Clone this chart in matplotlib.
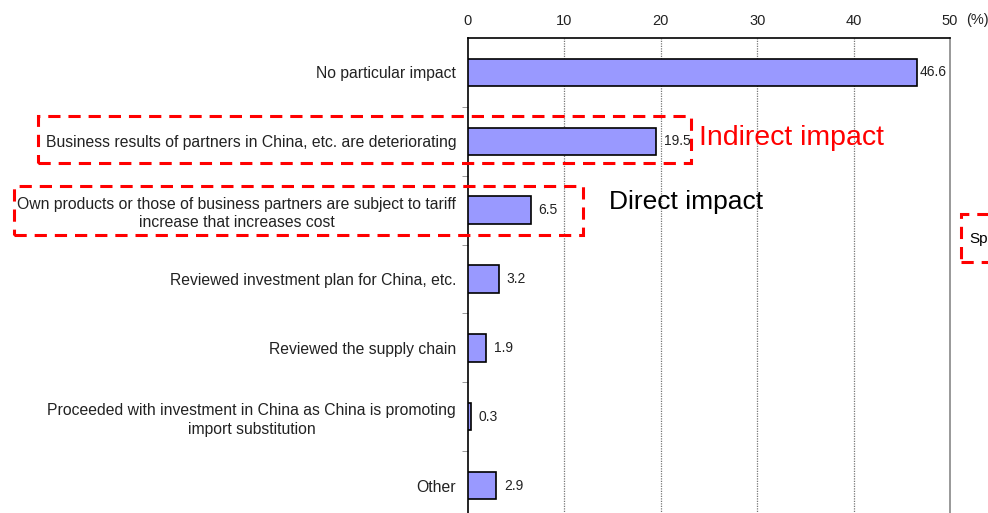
import matplotlib.pyplot as plt
from matplotlib.patches import Rectangle
import numpy as np

plt.rcParams['font.family'] = ['Liberation Sans', 'DejaVu Sans']

categories = [
    "No particular impact",
    "Business results of partners in China, etc. are deteriorating",
    "Own products or those of business partners are subject to tariff\nincrease that increases cost",
    "Reviewed investment plan for China, etc.",
    "Reviewed the supply chain",
    "Proceeded with investment in China as China is promoting\nimport substitution",
    "Other",
]
values = [46.6, 19.5, 6.5, 3.2, 1.9, 0.3, 2.9]
xticks = [0, 10, 20, 30, 40, 50]

W, H = 988, 513
fig = plt.figure(figsize=(W / 100, H / 100), dpi=100)
ax = fig.add_axes([468 / W, (H - 520) / H, 482 / W, 482 / H])

y = np.arange(len(categories))
ax.barh(y, values, height=0.4, color="#9999ff", edgecolor="black", linewidth=1.2, zorder=3)
for i, v in enumerate(values):
    pad = 2 if v == max(values) else 8
    ax.annotate(f"{v:.1f}", (v, i), xytext=(pad, 0), textcoords="offset pixels",
                va="center", ha="left", fontsize=10, color="#222222", zorder=4)

ax.set_xlim(0, 50)
ax.set_ylim(len(categories) - 0.5, -0.5)
ax.xaxis.tick_top()
ax.set_xticks(xticks)
ax.set_xticklabels([str(t) for t in xticks], fontsize=10.5, color="#222222")
ax.tick_params(axis="x", length=0, pad=7)
ax.set_yticks(y)
ax.set_yticklabels(categories, fontsize=11.3, multialignment="center",
                   linespacing=1.3, color="#222222")
ax.tick_params(axis="y", length=0, pad=8.5)
ax.set_yticks(np.arange(0.5, len(categories) - 0.5), minor=True)
ax.tick_params(axis="y", which="minor", length=4, color="#888888", direction="out")

for t in xticks[1:-1]:
    ax.axvline(t, color="#777777", linestyle=(0, (1, 1)), linewidth=0.9, zorder=1)
for side in ["left", "top"]:
    ax.spines[side].set_color("black")
    ax.spines[side].set_linewidth(1.2)
ax.spines["right"].set_color("#888888")
ax.spines["right"].set_linewidth(1.2)
ax.spines["bottom"].set_visible(False)

fig.text(966 / W, 1 - 20 / H, "(%)", fontsize=10.5, va="center", ha="left", color="#222222")

# red dashed call-out frames, in figure pixels
def frame(x0, y0, x1, y1):
    r = Rectangle((x0 / W, 1 - y1 / H), (x1 - x0) / W, (y1 - y0) / H,
                  transform=fig.transFigure, fill=False, edgecolor="red",
                  linewidth=2.2, linestyle=(0, (4, 2.6)), zorder=10)
    fig.add_artist(r)

frame(38, 116, 691, 163)
frame(14, 186, 583, 235)
frame(961, 214, 1000, 262)

fig.text(699 / W, 1 - 138 / H, "Indirect impact", color="red", fontsize=20.5, va="center", ha="left")
fig.text(609 / W, 1 - 202 / H, "Direct impact", color="black", fontsize=19, va="center", ha="left")
fig.text(969 / W, 1 - 239 / H, "Sp", color="black", fontsize=11, va="center", ha="left")

fig.savefig("out.png", dpi=100)
